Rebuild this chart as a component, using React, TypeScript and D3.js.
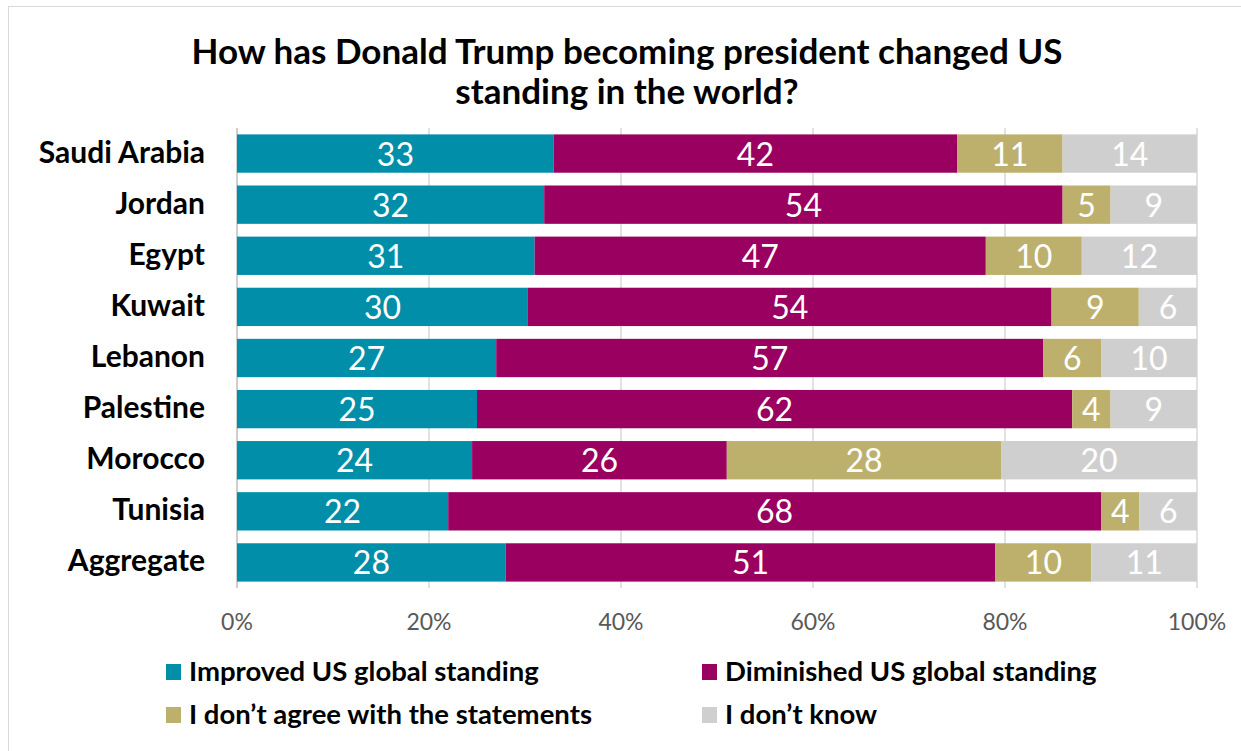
import React from "react";
import * as d3 from "d3";

const countries = ["Saudi Arabia", "Jordan", "Egypt", "Kuwait", "Lebanon", "Palestine", "Morocco", "Tunisia", "Aggregate"];
const seriesNames = ["Improved US global standing", "Diminished US global standing", "I don\u2019t agree with the statements", "I don\u2019t know"];
const improved = [33, 32, 31, 30, 27, 25, 24, 22, 28];
const diminished = [42, 54, 47, 54, 57, 62, 26, 68, 51];
const disagree = [11, 5, 10, 9, 6, 4, 28, 4, 10];
const dontKnow = [14, 9, 12, 6, 10, 9, 20, 6, 11];
const tickValues = [0, 0.2, 0.4, 0.6, 0.8, 1];
const colors = ["#018ea9", "#990060", "#bdb06c", "#d0cfd0"];
const titleLines = ["How has Donald Trump becoming president changed US", "standing in the world?"];

const FONT = "Lato, 'Open Sans', sans-serif";

export default function App() {
  const W = 1241, H = 751;
  const left = 237, right = 1197, top = 128, bottom = 588;
  const x = d3.scaleLinear().domain([0, 1]).range([left, right]);
  const y = d3.scaleBand().domain(countries).range([top, bottom]).paddingInner(0.25).paddingOuter(0.125);

  const rows = countries.map((c, i) => ({
    country: c,
    s0: improved[i], s1: diminished[i], s2: disagree[i], s3: dontKnow[i],
  }));
  const keys = ["s0", "s1", "s2", "s3"];
  const stack = d3.stack<any>().keys(keys).offset(d3.stackOffsetExpand);
  const stacked = stack(rows);

  return (
    <svg width={W} height={H} style={{ display: "block", position: "absolute", left: 0, top: 0 }} fontFamily={FONT}>
      <rect x={0} y={0} width={W} height={H} fill="#fff" />
      <rect x={8.5} y={6.5} width={W - 8} height={H - 3} fill="none" stroke="#d9d9d9" strokeWidth={1} />
      {titleLines.map((t, i) => (
        <text key={i} x={627} y={64 + i * 40} textAnchor="middle" fontSize={35} fontWeight="bold" fill="#000">{t}</text>
      ))}
      {tickValues.map((t) => (
        <line key={t} x1={x(t)} x2={x(t)} y1={top} y2={bottom} stroke={t === 0 ? "#bfbfbf" : "#d9d9d9"} strokeWidth={1.5} />
      ))}
      {stacked.map((layer, si) => (
        <g key={si}>
          {layer.map((d, i) => {
            const x0 = x(d[0]), x1 = x(d[1]);
            const yy = y(countries[i])!;
            const v = (rows[i] as any)[keys[si]];
            return (
              <g key={i}>
                <rect x={x0} y={yy} width={x1 - x0} height={y.bandwidth()} fill={colors[si]} />
                <text x={(x0 + x1) / 2} y={yy + y.bandwidth() / 2 + 12} textAnchor="middle" fontSize={32} fill="#fff">{v}</text>
              </g>
            );
          })}
        </g>
      ))}
      {countries.map((c) => (
        <text key={c} x={205} y={y(c)! + y.bandwidth() / 2 + 9} textAnchor="end" fontSize={30} fontWeight="bold" fill="#000">{c}</text>
      ))}
      {tickValues.map((t) => (
        <text key={t} x={x(t)} y={630} textAnchor="middle" fontSize={23} fill="#595959">{d3.format(".0%")(t)}</text>
      ))}
      {seriesNames.map((s, i) => {
        const lx = i % 2 === 0 ? 166 : 702;
        const ly = i < 2 ? 681 : 724;
        return (
          <g key={s}>
            <rect x={lx} y={ly - 17} width={15} height={16} fill={colors[i]} />
            <text x={lx + 23} y={ly} fontSize={27.5} fontWeight="bold" fill="#000">{s}</text>
          </g>
        );
      })}
    </svg>
  );
}
